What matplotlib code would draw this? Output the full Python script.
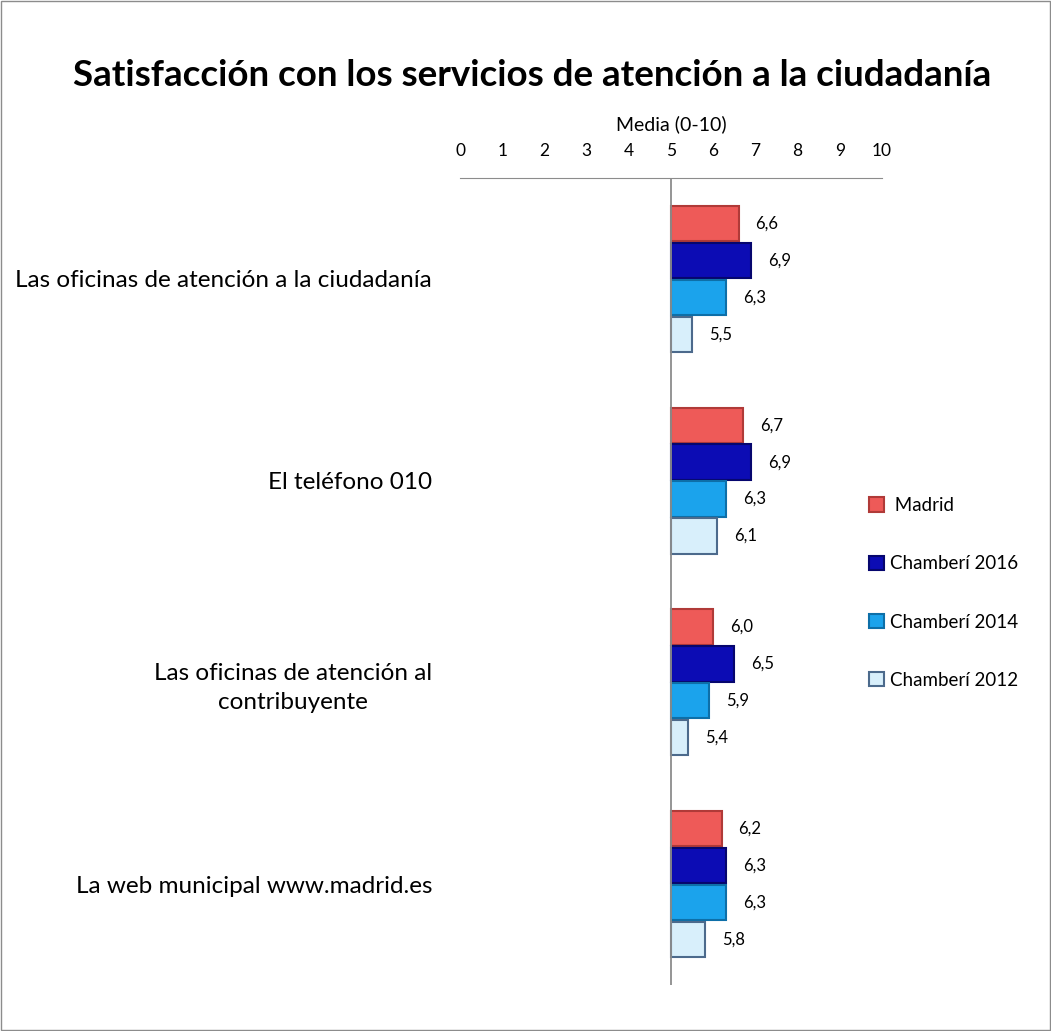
import numpy as np
import matplotlib.pyplot as plt
from matplotlib.patches import Rectangle

plt.rcParams['font.family'] = ['Lato', 'DejaVu Sans']

# Data
categories = ['Las oficinas de atención a la ciudadanía', 'El teléfono 010',
              'Las oficinas de atención al\ncontribuyente', 'La web municipal www.madrid.es']
series_names = [' Madrid', 'Chamberí 2016', 'Chamberí 2014', 'Chamberí 2012']
madrid = [6.6, 6.7, 6.0, 6.2]
chamberi_2016 = [6.9, 6.9, 6.5, 6.3]
chamberi_2014 = [6.3, 6.3, 5.9, 6.3]
chamberi_2012 = [5.5, 6.1, 5.4, 5.8]
x_ticks = list(range(0, 11))

series = [madrid, chamberi_2016, chamberi_2014, chamberi_2012]
face_colors = ['#EE5A58', '#0C0CB4', '#1BA3EC', '#D8EFFB']
edge_colors = ['#B03A38', '#06066E', '#0D6FA8', '#4C6A8C']

fig = plt.figure(figsize=(10.51, 10.31), dpi=100)
ax = fig.add_axes([0.4377, 0.0446, 0.4015, 0.7828])

step = 0.183
height = 0.175
y = np.arange(len(categories))
for k, (vals, fc, ec, name) in enumerate(zip(series, face_colors, edge_colors, series_names)):
    pos = y + (k - 1.5) * step
    ax.barh(pos, np.array(vals) - 5, left=5, height=height, color=fc,
            edgecolor=ec, linewidth=1.5, label=name)
    for p, v in zip(pos, vals):
        ax.text(v + 0.4, p, f'{v:.1f}'.replace('.', ','), va='center', ha='left', fontsize=12)

ax.set_xlim(0, 10)
ax.set_ylim(len(categories) - 0.5, -0.5)
ax.xaxis.tick_top()
ax.xaxis.set_label_position('top')
ax.set_xticks(x_ticks)
ax.tick_params(axis='x', length=0, pad=14, labelsize=12.5)
ax.set_xlabel('Media (0-10)', fontsize=14, labelpad=9)
ax.set_yticks(y)
ax.set_yticklabels(categories, fontsize=17.5, linespacing=1.45, ha='right', multialignment='center')
ax.tick_params(axis='y', length=0, pad=20)
for s in ['left', 'right', 'bottom']:
    ax.spines[s].set_visible(False)
ax.spines['top'].set_color('#8c8c8c')
ax.axvline(5, color='#8c8c8c', linewidth=1.3)

fig.text(0.506, 0.927, 'Satisfacción con los servicios de atención a la ciudadanía',
         ha='center', va='center', fontsize=26.5, fontweight='bold')

leg = fig.legend(loc='upper left', bbox_to_anchor=(0.818, 0.527), frameon=False,
                 fontsize=13.5, labelspacing=2.2, handlelength=0.8, handleheight=0.8,
                 handletextpad=0.3, borderpad=0)

fig.patches.append(Rectangle((0.001, 0.001), 0.998, 0.998, transform=fig.transFigure,
                             fill=False, edgecolor='#8c8c8c', linewidth=1))

fig.savefig('out.png', dpi=100)
